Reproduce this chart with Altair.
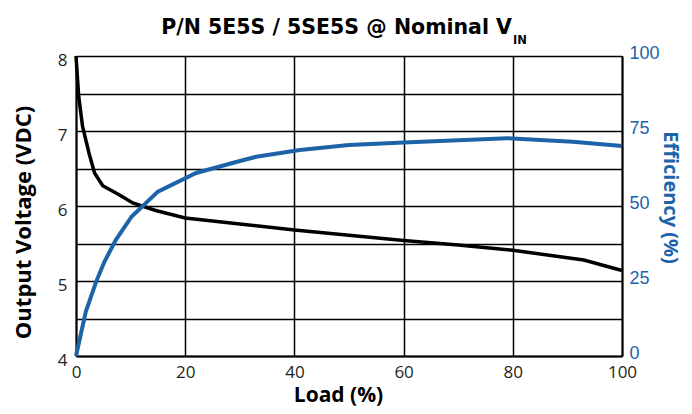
import altair as alt
import pandas as pd

# Output voltage curve (black)
load_v = [0, 0.5, 1.2, 2.4, 3.4, 4.9, 7.9, 10.4, 14.6, 20, 30, 40, 50, 60, 70, 80, 93, 100]
volt = [8.0, 7.46, 7.06, 6.7, 6.44, 6.27, 6.15, 6.04, 5.94, 5.84, 5.76, 5.68, 5.61, 5.54, 5.48, 5.41, 5.28, 5.14]

# Efficiency curve (blue)
load_e = [0, 1.8, 3.7, 5.2, 7.3, 10.2, 15, 22, 30, 33, 41, 50, 60, 79, 91, 100]
eff = [0, 14.8, 24.8, 31.4, 38.7, 46.5, 54.8, 61, 65, 66.4, 68.7, 70.3, 71.2, 72.6, 71.4, 70]

x_ticks = [0, 20, 40, 60, 80, 100]
v_ticks = [4, 4.5, 5, 5.5, 6, 6.5, 7, 7.5, 8]
e_ticks = [0, 25, 50, 75, 100]

title_main = "P/N 5E5S / 5SE5S @ Nominal V"
title_sub = "IN"

BLUE = "#1c63a8"
LABEL = "#231f20"

dv = pd.DataFrame({"load": load_v, "volt": volt})
de = pd.DataFrame({"load": load_e, "eff": eff})

x_enc = alt.X(
    "load:Q",
    scale=alt.Scale(domain=[0, 100], nice=False),
    axis=alt.Axis(
        values=x_ticks, grid=True, gridColor="black", gridWidth=1.5, gridOpacity=1,
        domainColor="black", domainWidth=2, ticks=False, tickSize=0,
        labelFont="Open Sans", labelFontSize=17, labelColor=LABEL, labelPadding=8,
        labelFlush=False,
        title="Load (%)", titleFont="Open Sans", titleFontSize=21, titleFontWeight="bold",
        titleColor="black", titleX=262, titleY=45, titleAlign="center",
        titleBaseline="alphabetic",
    ),
)

volt_line = alt.Chart(dv).mark_line(color="black", strokeWidth=3.5).encode(
    x=x_enc,
    y=alt.Y(
        "volt:Q",
        scale=alt.Scale(domain=[4, 8], nice=False, zero=False),
        axis=alt.Axis(
            values=v_ticks,
            labelExpr="datum.value % 1 == 0 ? format(datum.value, 'd') : ''",
            grid=True, gridColor="black", gridWidth=1.5, gridOpacity=1,
            domainColor="black", domainWidth=2, ticks=False, tickSize=0,
            labelFont="Open Sans", labelFontSize=17, labelColor=LABEL, labelPadding=9,
            labelOffset=4,
            title="Output Voltage (VDC)", titleFont="Open Sans", titleFontSize=22,
            titleFontWeight="bold", titleColor="black", titleAngle=-90,
            titleX=-53, titleY=166, titleAlign="center", titleBaseline="middle",
        ),
    ),
)

eff_line = alt.Chart(de).mark_line(color=BLUE, strokeWidth=4).encode(
    x=x_enc,
    y=alt.Y(
        "eff:Q",
        scale=alt.Scale(domain=[0, 100], nice=False),
        axis=alt.Axis(
            orient="right", values=e_ticks, grid=False,
            domainColor="black", domainWidth=2, ticks=False, tickSize=0,
            labelFont="Liberation Sans", labelFontSize=18, labelColor=BLUE, labelPadding=7,
            labelOffset=-3,
            title="Efficiency (%)", titleFont="Open Sans", titleFontSize=20,
            titleFontWeight="bold", titleColor=BLUE, titleAngle=90,
            titleX=47, titleY=141, titleAlign="center", titleBaseline="middle",
        ),
    ),
)

tdf = pd.DataFrame({"t": [title_main]})
sdf = pd.DataFrame({"t": [title_sub]})

title_txt = alt.Chart(tdf).mark_text(
    font="DejaVu Sans", fontSize=20.5, fontWeight="bold", color="black",
    align="right", baseline="alphabetic",
).encode(text="t:N", x=alt.value(436), y=alt.value(-22))

sub_txt = alt.Chart(sdf).mark_text(
    font="DejaVu Sans", fontSize=11.5, fontWeight="bold", color="black",
    align="left", baseline="alphabetic",
).encode(text="t:N", x=alt.value(437), y=alt.value(-12))

chart = (
    alt.layer(volt_line, eff_line, title_txt, sub_txt)
    .resolve_scale(y="independent")
    .properties(
        width=546, height=300,
        autosize=alt.AutoSizeParams(type="none"),
        padding={"left": 68, "top": 48, "right": 62, "bottom": 50},
        background="white",
    )
    .configure_view(stroke=None)
)

chart.save("out.html", embed_options={"renderer": "svg", "actions": False})
